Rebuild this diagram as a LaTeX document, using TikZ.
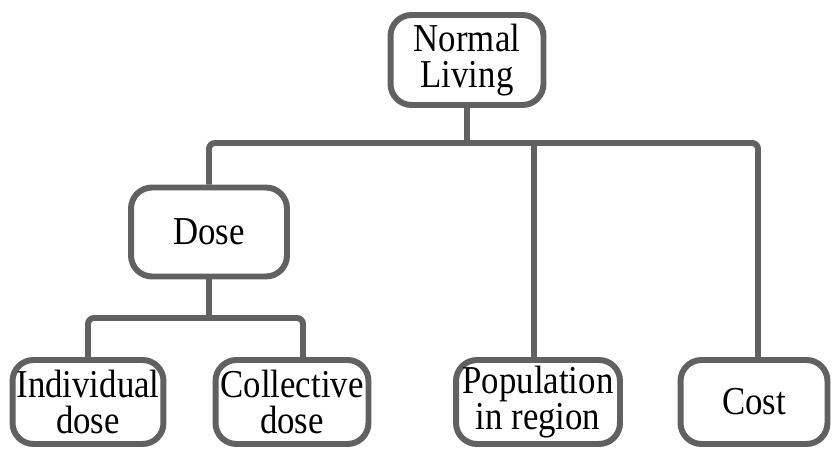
\documentclass[tikz,border=0pt]{standalone}
\usepackage{fontspec}
\setmainfont{Liberation Serif}
\newfontfamily\boxfont[FakeStretch=0.88]{Liberation Serif}
\definecolor{linegray}{gray}{0.38}
\tikzset{
  box/.style={draw=linegray, line width=3.4pt, rounded corners=0.42cm, fill=white,
    align=center, inner sep=0pt, minimum height=1.68cm,
    font=\boxfont\fontsize{22.5}{20.5}\selectfont},
  link/.style={draw=linegray, line width=3.4pt, rounded corners=0.12cm}
}
\begin{document}
\begin{tikzpicture}[x=0.02cm,y=-0.02cm]
        \useasboundingbox (0,0) rectangle (832,449);
        % boxes
        \node[box, minimum width=3.06cm, minimum height=1.8cm] (normal) at (467,60) {Normal\\Living};
        \node[box, minimum width=3.12cm, minimum height=1.78cm] (dose) at (209,232) {Dose};
        \node[box, minimum width=3.02cm] (indiv) at (88,402) {Individual\\dose};
        \node[box, minimum width=3.06cm] (coll) at (292,402) {Collective\\dose};
        \node[box, minimum width=3.28cm] (pop) at (538,402) {Population\\in region};
        \node[box, minimum width=2.94cm] (cost) at (754,402) {Cost};
        \coordinate (topbus) at (0,143);
        \coordinate (lowbus) at (0,318);
        % upper level
        \draw[link] (normal.south) -- (normal.south |- topbus);
        \draw[link] (dose.north) |- ([xshift=0.08cm]cost.north |- topbus) -- ([xshift=0.08cm]cost.north);
        \draw[link] ([xshift=-0.08cm]pop.north) -- ([xshift=-0.08cm]pop.north |- topbus);
        % lower level
        \draw[link] (dose.south) -- (dose.south |- lowbus);
        \draw[link] (indiv.north) |- ([xshift=0.22cm]coll.north |- lowbus) -- ([xshift=0.22cm]coll.north);
    \end{tikzpicture}
\end{document}
